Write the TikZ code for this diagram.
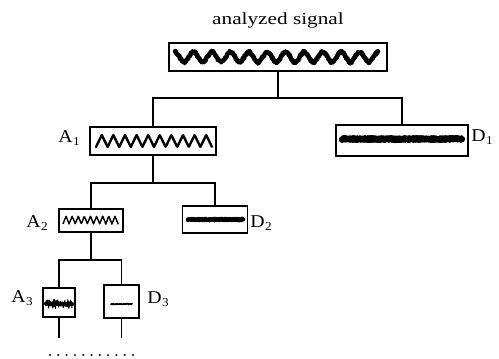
\documentclass[tikz,border=0pt]{standalone}
\usepackage{fontspec}
\setmainfont{Liberation Serif}
\newcommand{\lbl}[2]{#1\kern0.3pt{\fontsize{12}{12}\selectfont\raisebox{-3.5pt}{#2}}}
\begin{document}
\begin{tikzpicture}[x=1pt,y=-1pt,
  sigbox/.style={draw, line width=1.5pt, rectangle, inner sep=0pt},
  link/.style={line width=1.4pt},
  tag/.style={font=\fontsize{18}{18}\selectfont, inner sep=0pt, xscale=1.1},
  wave/.style={line width=#1, line join=round, line cap=round}]
\useasboundingbox (0,0) rectangle (499,359);
\pgfmathsetseed{42}

% boxes of the decomposition tree
\node[sigbox, minimum width=218pt, minimum height=28pt] (S)  at (278,57) {};
\node[sigbox, minimum width=126pt, minimum height=28pt] (A1) at (153,141) {};
\node[sigbox, minimum width=132pt, minimum height=31pt] (D1) at (402,140.5) {};
\node[sigbox, minimum width=64pt,  minimum height=23pt] (A2) at (91,220.5) {};
\node[sigbox, minimum width=65pt,  minimum height=27pt] (D2) at (215,219.5) {};
\node[sigbox, minimum width=32pt,  minimum height=29pt] (A3) at (59,302.5) {};
\node[sigbox, minimum width=35pt,  minimum height=33pt] (D3) at (121.5,301.5) {};

% labels
\node[font=\fontsize{17}{17}\selectfont, inner sep=0pt, xscale=1.25] (title) at (278,20) {analyzed signal};
\node[tag] (tA1) at (69,138) {\lbl{A}{1}};
\node[tag] (tD1) at (482,137) {\lbl{D}{1}};
\node[tag] (tA2) at (37,223) {\lbl{A}{2}};
\node[tag] (tD2) at (261,223) {\lbl{D}{2}};
\node[tag] (tA3) at (22,298) {\lbl{A}{3}};
\node[tag] (tD3) at (158,299) {\lbl{D}{3}};

% junction levels
\coordinate (j1) at (0,98);
\coordinate (j2) at (0,183);
\coordinate (j3) at (0,260);
\coordinate (e3) at (0,338);

% connectors
\draw[link] (S.south) -- (S.south |- j1);
\draw[link] (A1.north) -- (A1.north |- j1) -- (D1.north |- j1) -- (D1.north);
\draw[link] (A1.south) -- (A1.south |- j2);
\draw[link] (A2.north) -- (A2.north |- j2) -- (D2.north |- j2) -- (D2.north);
\draw[link] (A2.south) -- (A2.south |- j3);
\draw[link] (A3.north) -- (A3.north |- j3) -- (D3.north |- j3) -- (D3.north);
\coordinate (A3e) at (A3.south |- e3);
\coordinate (D3e) at (D3.south |- e3);
\draw[link] (A3.south) -- (A3e);
\draw[link] (D3.south) -- (D3e);

% continuation dots
\foreach \i in {0,...,10} \fill ({50+8.3*\i},355) circle (1.1pt);

% original signal: noisy sine
\draw[wave=4.5pt] plot[domain=0:1, samples=420] ({175+203*\x},{57-5*sin(11*360*\x+90)+1.2*rand});
\draw[wave=1.5pt] plot[domain=0:1, samples=300] ({175+203*\x},{57-5*sin(11*360*\x+90)+3*rand});

% approximation A1: smooth zigzag
\draw[wave=2.4pt] plot[domain=0:1, samples=300] ({96+116*\x},{141-6*asin(sin(10*360*\x-90))/90});

% detail D1: dense noise band
\draw[wave=6.5pt] plot[domain=0:1, samples=240] ({342+120*\x},{139+0.8*rand});
\draw[wave=1.4pt] plot[domain=0:1, samples=240] ({342+120*\x},{139+3.6*rand});

% approximation A2: finer zigzag
\draw[wave=1.4pt] plot[domain=0:1, samples=200] ({63+55*\x},{220-3.8*asin(sin(9*360*\x-90))/90+0.4*rand});

% detail D2
\draw[wave=4.5pt] plot[domain=0:1, samples=120] ({188+55*\x},{219.5+0.5*rand});
\draw[wave=1.2pt] plot[domain=0:1, samples=120] ({188+55*\x},{219.5+2.4*rand});

% approximation A3: noisy band
\draw[wave=4pt] plot[domain=0:1, samples=60] ({46+26*\x},{304+0.6*rand});
\draw[wave=1pt] plot[domain=0:1, samples=70] ({46+26*\x},{304+4.5*rand});

% detail D3: nearly flat
\draw[wave=1.8pt] plot[domain=0:1, samples=30] ({111+21*\x},{304+0.3*rand});
\end{tikzpicture}
\end{document}
